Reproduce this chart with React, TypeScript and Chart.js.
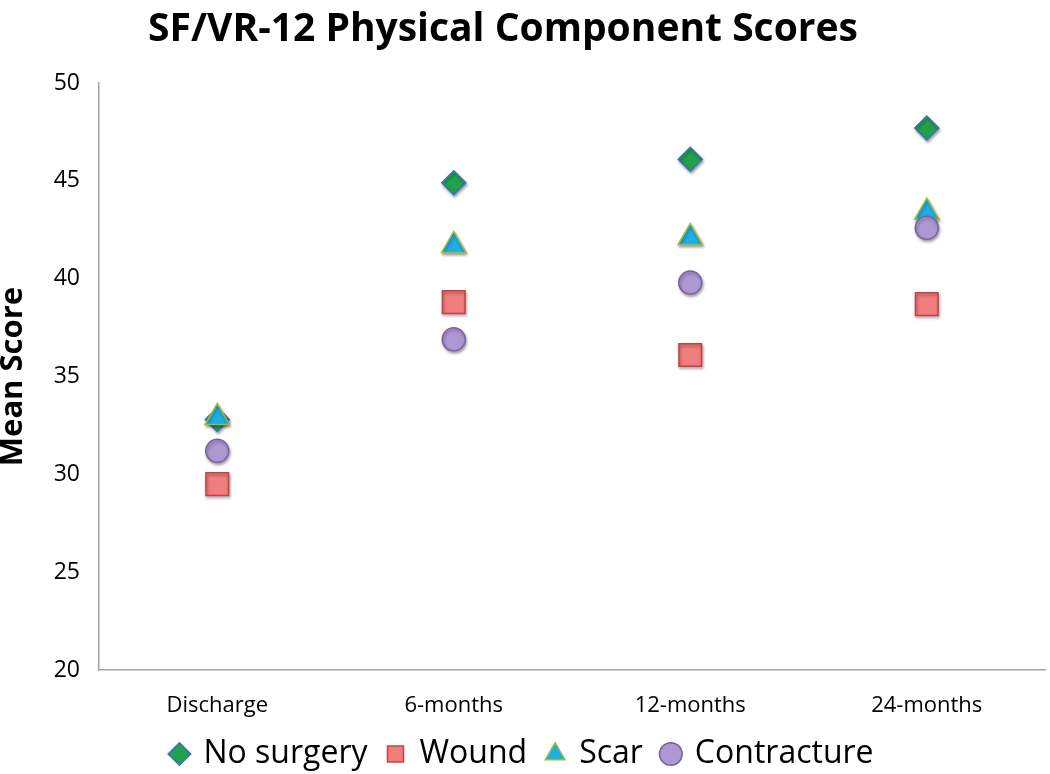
import { useEffect, useRef } from 'react';
import { Chart, registerables } from 'chart.js';

Chart.register(...registerables);

const categories = ['Discharge', '6-months', '12-months', '24-months'];
const noSurgery = [32.8, 44.9, 46.1, 47.7];
const wound = [29.5, 38.8, 36.1, 38.7];
const scar = [32.9, 41.7, 42.1, 43.4];
const contracture = [31.2, 36.9, 39.8, 42.6];
const yMin = 20;
const yMax = 50;
const yStep = 5;
const titleText = 'SF/VR-12 Physical Component Scores';
const yTitle = 'Mean Score';

export default function App() {
  const ref = useRef<HTMLCanvasElement>(null);

  useEffect(() => {
    document.body.style.margin = '0';
    const shadow = {
      id: 'markerShadow',
      beforeDatasetsDraw(chart: any) {
        const c = chart.ctx;
        c.save();
        c.shadowColor = 'rgba(0,0,0,0.35)';
        c.shadowBlur = 3;
        c.shadowOffsetX = 1;
        c.shadowOffsetY = 2;
      },
      afterDatasetsDraw(chart: any) {
        chart.ctx.restore();
      },
    };
    const axisBorder = { display: true, color: '#a3a3a3', width: 1.5 };
    const chart = new Chart(ref.current as HTMLCanvasElement, {
      type: 'line',
      data: {
        labels: categories,
        datasets: [
          {
            label: 'No surgery',
            data: noSurgery,
            showLine: false,
            pointStyle: 'rectRot',
            pointRadius: 12,
            pointHoverRadius: 12,
            pointBackgroundColor: '#21a24a',
            pointBorderColor: '#3f6fc0',
            backgroundColor: '#21a24a',
            borderColor: '#3f6fc0',
            pointBorderWidth: 1.5,
            order: 4,
          },
          {
            label: 'Wound',
            data: wound,
            showLine: false,
            pointStyle: 'rect',
            pointRadius: 16,
            pointHoverRadius: 16,
            pointBackgroundColor: '#f07e7e',
            pointBorderColor: '#c9413f',
            backgroundColor: '#f07e7e',
            borderColor: '#c9413f',
            pointBorderWidth: 1.5,
            order: 3,
          },
          {
            label: 'Scar',
            data: scar,
            showLine: false,
            pointStyle: 'triangle',
            pointRadius: 14,
            pointHoverRadius: 14,
            pointBackgroundColor: '#1eaee6',
            pointBorderColor: '#9bbb3a',
            backgroundColor: '#1eaee6',
            borderColor: '#9bbb3a',
            pointBorderWidth: 1.5,
            order: 2,
          },
          {
            label: 'Contracture',
            data: contracture,
            showLine: false,
            pointStyle: 'circle',
            pointRadius: 11.5,
            pointHoverRadius: 11.5,
            pointBackgroundColor: '#ad98d2',
            pointBorderColor: '#7c5ea8',
            backgroundColor: '#ad98d2',
            borderColor: '#7c5ea8',
            pointBorderWidth: 1.5,
            order: 1,
          },
        ],
      },
      options: {
        responsive: false,
        animation: false,
        layout: { autoPadding: false, padding: { top: 83, right: 5, left: 0, bottom: -6 } },
        plugins: {
          title: { display: false },
          tooltip: { enabled: false },
          legend: {
            position: 'bottom',
            labels: {
              usePointStyle: true,
              boxWidth: 16,
              boxHeight: 16,
              padding: 20,
              color: '#000',
              font: { family: 'Open Sans', size: 32 },
              sort: (a: any, b: any) => a.datasetIndex - b.datasetIndex,
            },
          },
        },
        scales: {
          x: {
            offset: true,
            grid: { display: false, drawTicks: false, offset: true },
            border: axisBorder,
            ticks: { color: '#000', font: { family: 'Open Sans', size: 22 }, padding: 23 },
            afterFit(s: any) {
              s.height = 48;
              s.paddingLeft = 0;
              s.paddingRight = 0;
            },
          },
          y: {
            min: yMin,
            max: yMax,
            grid: { display: false, drawTicks: false },
            border: axisBorder,
            ticks: { stepSize: yStep, color: '#000', font: { family: 'Open Sans', size: 23 }, padding: 19 },
            title: {
              display: true,
              text: yTitle,
              color: '#000',
              font: { family: 'Open Sans', size: 31, weight: 'bold', lineHeight: 0.85 },
              padding: 0,
            },
            afterFit(s: any) {
              s.width = 99;
            },
          },
        },
      },
      plugins: [shadow],
    });
    return () => chart.destroy();
  }, []);

  return (
    <div style={{ position: 'relative', width: 1050, height: 774 }}>
      <div
        style={{
          position: 'absolute',
          left: 0,
          top: 2,
          width: 1006,
          textAlign: 'center',
          fontFamily: 'Open Sans',
          fontWeight: 700,
          fontSize: 39,
          lineHeight: '48px',
          color: '#000',
        }}
      >
        {titleText}
      </div>
      <canvas ref={ref} width={1050} height={774} style={{ display: 'block' }} />
    </div>
  );
}
